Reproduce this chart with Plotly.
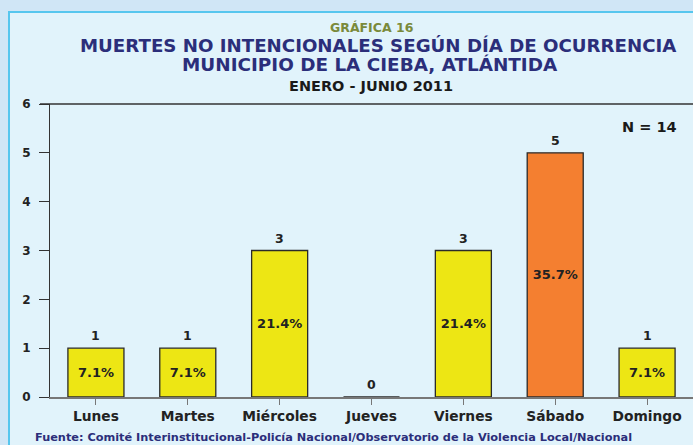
import plotly.graph_objects as go

days = ["Lunes", "Martes", "Miércoles", "Jueves", "Viernes", "Sábado", "Domingo"]
counts = [1, 1, 3, 0, 3, 5, 1]
pct_labels = ["7.1%", "7.1%", "21.4%", "", "21.4%", "35.7%", "7.1%"]
bar_colors = ["#ede614", "#ede614", "#ede614", "#ede614", "#ede614", "#f47f30", "#ede614"]
y_ticks = [0, 1, 2, 3, 4, 5, 6]
total_label = "N = 14"

BOLD = "DejaVu Sans"

fig = go.Figure()
fig.add_trace(go.Bar(
    x=days, y=counts,
    marker=dict(color=bar_colors, line=dict(color="#2a2a2a", width=1.3)),
    width=0.61,
    text=pct_labels, textposition="inside", insidetextanchor="middle",
    textangle=0,
    textfont=dict(family=BOLD, size=13, color="#222", weight="bold"),
    cliponaxis=False,
    showlegend=False,
))

H = 293.0
def py(p):
    return (397 - p) / H
def px(p):
    return (p - 50) / 643.0

shapes = [
    dict(type="rect", xref="paper", yref="paper", x0=px(9), x1=px(700), y0=py(452), y1=py(12),
         fillcolor="#e1f3fb", line=dict(color="#56c6ee", width=2), layer="below"),
    dict(type="line", xref="paper", yref="paper", x0=px(40), x1=1.02, y0=1, y1=1,
         line=dict(color="#333", width=1.5)),
]

ann = [
    dict(text="GRÁFICA 16", x=px(372), y=py(27.5), font=dict(family=BOLD, size=12.5, color="#7a8a3a", weight="bold")),
    dict(text="MUERTES NO INTENCIONALES SEGÚN DÍA DE OCURRENCIA", x=px(378), y=py(45.5),
         font=dict(family=BOLD, size=18.2, color="#2b2e7a", weight="bold")),
    dict(text="MUNICIPIO DE LA CIEBA, ATLÁNTIDA", x=px(370), y=py(64.5),
         font=dict(family=BOLD, size=18.4, color="#2b2e7a", weight="bold")),
    dict(text="ENERO - JUNIO 2011", x=px(371), y=py(85.5),
         font=dict(family=BOLD, size=14.5, color="#1a1a1a", weight="bold")),
    dict(text=total_label, x=px(679), y=py(127), xanchor="right",
         font=dict(family=BOLD, size=14.5, color="#1a1a1a", weight="bold")),
    dict(text="Fuente: Comité Interinstitucional-Policía Nacional/Observatorio de la Violencia Local/Nacional",
         x=px(33), y=py(437), xanchor="left",
         font=dict(family=BOLD, size=11.3, color="#2b2e7a", weight="bold")),
]
for a in ann:
    a.update(xref="paper", yref="paper", showarrow=False)
    a.setdefault("xanchor", "center")
    a["yanchor"] = "middle"

for d, c in zip(days, counts):
    ann.append(dict(x=d, y=c, xref="x", yref="y", text=str(c), showarrow=False,
                    yanchor="bottom", yshift=3,
                    font=dict(family=BOLD, size=12.5, color="#222", weight="bold")))

fig.update_layout(
    width=693, height=445,
    margin=dict(l=50, r=0, t=104, b=48),
    paper_bgcolor="#d0e6f6",
    plot_bgcolor="rgba(0,0,0,0)",
    shapes=shapes, annotations=ann,
    bargap=0.39,
    xaxis=dict(showgrid=False, showline=True, linecolor="#777", linewidth=1.5,
               ticks="outside", ticklen=6, tickcolor="#777",
               tickfont=dict(family=BOLD, size=13.8, color="#222", weight="bold"),
               fixedrange=True),
    yaxis=dict(range=[0, 6], tickvals=y_ticks, showgrid=False, zeroline=False,
               showline=True, linecolor="#333", linewidth=1.2,
               ticks="outside", ticklen=10, tickcolor="#333",
               ticklabelstandoff=6,
               tickfont=dict(family=BOLD, size=12, color="#222", weight="bold")),
)

fig.write_html("out.html", config={"displayModeBar": False},
               post_script="document.body.style.margin='0';document.body.style.overflow='hidden';")
